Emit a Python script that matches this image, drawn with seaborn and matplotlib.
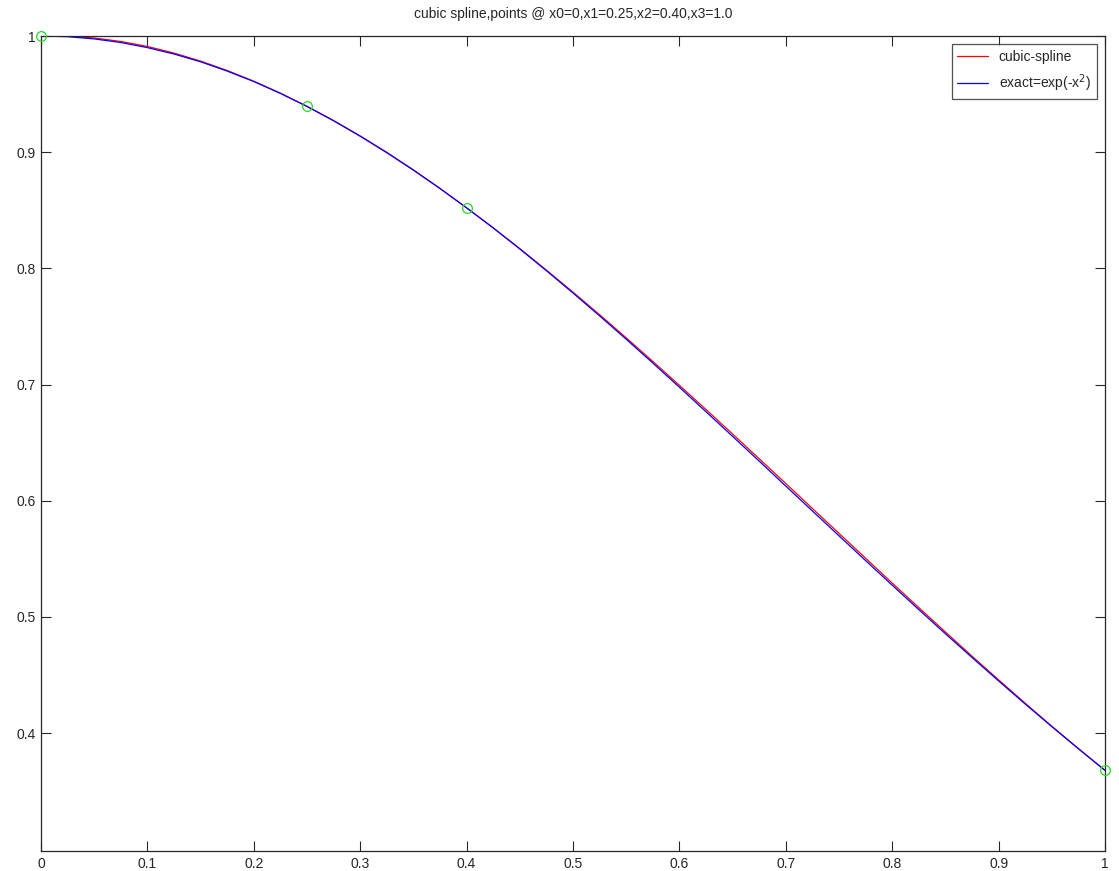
import matplotlib
matplotlib.use("Agg")
import matplotlib.pyplot as plt
import seaborn as sns
import pandas as pd

# Data
x_curve = [0.0, 0.025, 0.05, 0.075, 0.1, 0.125, 0.15, 0.175, 0.2, 0.225,
           0.25, 0.275, 0.3, 0.325, 0.35, 0.375, 0.4, 0.425, 0.45, 0.475,
           0.5, 0.525, 0.55, 0.575, 0.6, 0.625, 0.65, 0.675, 0.7, 0.725,
           0.75, 0.775, 0.8, 0.825, 0.85, 0.875, 0.9, 0.925, 0.95, 0.975, 1.0]
y_spline = [1.0, 0.9999, 0.9983, 0.9953, 0.9910, 0.9853, 0.9784, 0.9703,
            0.9611, 0.9508, 0.9394, 0.9270, 0.9137, 0.8995, 0.8845, 0.8687,
            0.8521, 0.8349, 0.8170, 0.7985, 0.7795, 0.7601, 0.7402, 0.7199,
            0.6993, 0.6785, 0.6574, 0.6361, 0.6148, 0.5933, 0.5719, 0.5505,
            0.5291, 0.5080, 0.4870, 0.4662, 0.4458, 0.4257, 0.4059, 0.3867,
            0.3679]
y_exact = [1.0, 0.9994, 0.9975, 0.9944, 0.9900, 0.9845, 0.9778, 0.9698,
           0.9608, 0.9506, 0.9394, 0.9272, 0.9139, 0.8998, 0.8847, 0.8688,
           0.8521, 0.8348, 0.8167, 0.7980, 0.7788, 0.7591, 0.7390, 0.7185,
           0.6977, 0.6766, 0.6554, 0.6341, 0.6126, 0.5912, 0.5698, 0.5485,
           0.5273, 0.5063, 0.4855, 0.4651, 0.4449, 0.4250, 0.4056, 0.3865,
           0.3679]
x_nodes = [0.0, 0.25, 0.40, 1.0]
y_nodes = [1.0, 0.9394, 0.8521, 0.3679]

x_ticks = [0, 0.1, 0.2, 0.3, 0.4, 0.5, 0.6, 0.7, 0.8, 0.9, 1]
x_ticklabels = ["0", "0.1", "0.2", "0.3", "0.4", "0.5", "0.6", "0.7", "0.8", "0.9", "1"]
y_ticks = [0.4, 0.5, 0.6, 0.7, 0.8, 0.9, 1.0]
y_ticklabels = ["0.4", "0.5", "0.6", "0.7", "0.8", "0.9", "1"]

sns.set_style("ticks")
plt.rcParams['font.family'] = ['Liberation Sans', 'DejaVu Sans']

fig = plt.figure(figsize=(11.19, 8.71), dpi=100)
ax = fig.add_axes([41/1119, 1-851/871, (1105-41)/1119, (851-36)/871])

df_s = pd.DataFrame({"x": x_curve, "y": y_spline})
df_e = pd.DataFrame({"x": x_curve, "y": y_exact})
df_n = pd.DataFrame({"x": x_nodes, "y": y_nodes})

sns.lineplot(data=df_s, x="x", y="y", ax=ax, color="#ff0000", linewidth=0.9,
             label="cubic-spline", sort=False)
sns.lineplot(data=df_e, x="x", y="y", ax=ax, color="#0000ff", linewidth=0.9,
             label="exact=exp(-x$^2$)", sort=False)
ax.plot(df_n["x"], df_n["y"], linestyle="none", marker="o", markersize=7,
        markerfacecolor="none", markeredgecolor="#22dd22", markeredgewidth=0.9,
        clip_on=False, zorder=5)

ax.set_xlim(0, 1)
ax.set_ylim(0.2985, 1.0)
ax.set_xticks(x_ticks)
ax.set_xticklabels(x_ticklabels)
ax.set_yticks(y_ticks)
ax.set_yticklabels(y_ticklabels)
ax.set_xlabel("")
ax.set_ylabel("")
ax.tick_params(direction="in", length=7, width=0.8, top=True, right=True,
               labelsize=10, colors="#262626", pad=4)
for sp in ax.spines.values():
    sp.set_visible(True)
    sp.set_linewidth(0.9)
    sp.set_color("#262626")

ax.set_title("cubic spline,points @ x0=0,x1=0.25,x2=0.40,x3=1.0", fontsize=10, pad=13)

leg = ax.legend(loc="upper right", fontsize=10, frameon=True, fancybox=False,
                edgecolor="#262626", handlelength=2.2, borderaxespad=0.6,
                labelspacing=0.6)
leg.get_frame().set_linewidth(0.9)

fig.savefig("out.png", dpi=100)
